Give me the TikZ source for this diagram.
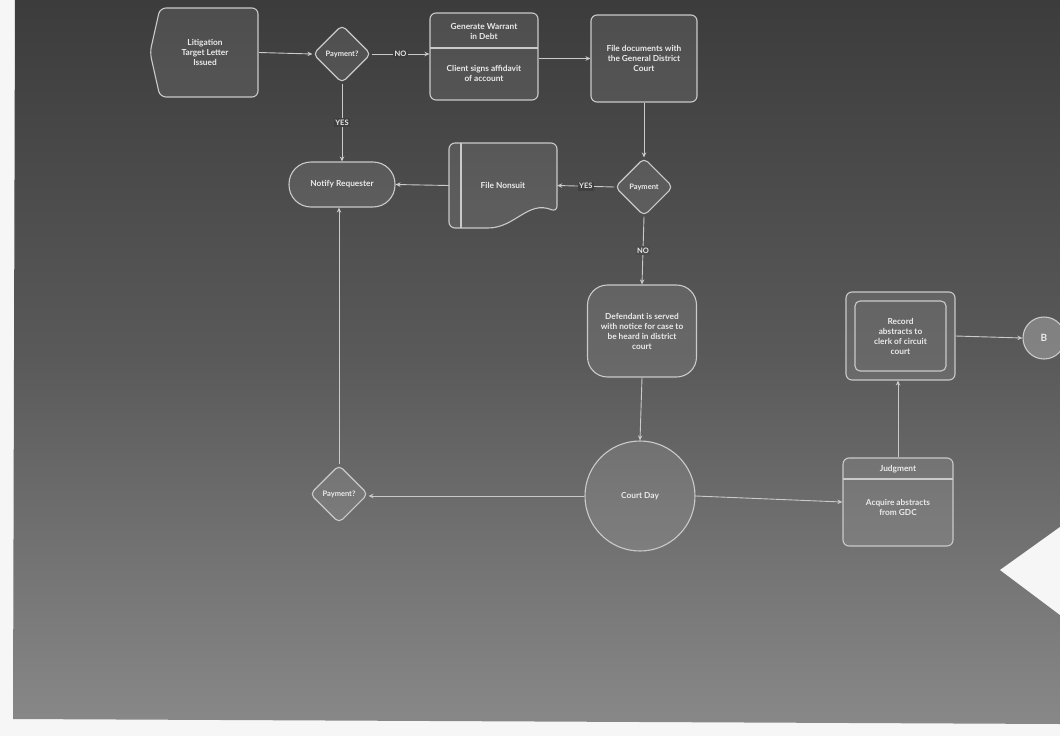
\documentclass[tikz,border=0pt]{standalone}
\usepackage{fontspec}
\setmainfont{Lato}
\usetikzlibrary{shapes.geometric,arrows.meta}
\definecolor{edgec}{HTML}{CACACA}
\definecolor{txtc}{HTML}{EAEAEA}
\definecolor{bgtop}{HTML}{3C3C3C}
\definecolor{bgmid}{HTML}{5A5A5A}
\definecolor{bgbot}{HTML}{888888}
\definecolor{paper}{HTML}{F6F6F6}
\tikzset{
  nodefill/.style={fill=white, fill opacity=0.09, text opacity=1, draw opacity=1},
  box/.style={draw=edgec, nodefill, rounded corners=6pt, line width=1.1pt, text=txtc, align=center},
  dia/.style={diamond, aspect=1, draw=edgec, nodefill, rounded corners=5pt, line width=1.1pt, text=txtc, inner sep=0.5pt, minimum size=58pt, font=\bfseries\fontsize{7.5}{9}\selectfont},
  conn/.style={draw=edgec, line width=0.9pt, -{Stealth[length=5pt,width=4.5pt]}},
  lbl/.style={text=txtc, font=\bfseries\fontsize{7.5}{9}\selectfont, inner sep=1.5pt},
  txt/.style={text=txtc, align=center},
  anchornode/.style={inner sep=0pt, draw=none}
}
\begin{document}
\begin{tikzpicture}[x=1pt,y=-1pt,font=\bfseries\fontsize{8.3}{10}\selectfont]
\useasboundingbox (0,0) rectangle (1060,736);
\fill[paper] (0,0) rectangle (1060,736);
\shade[top color=bgtop, bottom color=bgbot, middle color=bgmid] (15,0) -- (1060,0) -- (1060,724) -- (13,719) -- cycle;
\fill[paper] (1000,570) -- (1060,527) -- (1060,615) -- cycle;

% Litigation letter
\draw[box] (160,8) -- (258,8) -- (258,97) -- (160,97) -- (150,52.5) -- cycle;
\node[anchornode, txt, minimum width=108pt, minimum height=89pt] (lit) at (205,52.5) {Litigation\\Target Letter\\Issued};

% Payment? top
\node[dia] (p1) at (342,54) {Payment?};

% Generate warrant
\node[box, minimum width=108pt, minimum height=87pt] (gen) at (484,56.5) {};
\draw[edgec, line width=1.1pt] (430,48) -- (538,48);
\node[txt] (gent) at (484,31) {Generate Warrant\\in Debt};
\node[txt] (genb) at (484,73) {Client signs affidavit\\of account};

% File documents
\node[box, minimum width=106pt, minimum height=87pt] (fd) at (644,58.5) {File documents with\\the General District\\Court};

% Payment 2
\node[dia] (p2) at (644,187) {Payment};

% File Nonsuit
\draw[box] (449,228) -- (449,143) -- (557,143) -- (557,212) .. controls (528,200) and (515,228) .. (482,228) -- cycle;
\draw[edgec, line width=1.1pt] (461,143) -- (461,228);
\node[anchornode, txt, minimum width=108pt, minimum height=85pt] (fn) at (503,185.5) {File Nonsuit};

% Notify requester
\node[box, rounded corners=22pt, minimum width=106pt, minimum height=45pt] (nr) at (342,184.5) {Notify Requester};

% Defendant served
\node[box, rounded corners=20pt, minimum width=109pt, minimum height=92pt] (def) at (642,331) {Defendant is served\\with notice for case to\\be heard in district\\court};

% Court Day
\node[circle, draw=edgec, nodefill, line width=1.1pt, minimum size=110pt, text=txtc] (cd) at (640,496) {Court Day};

% Payment 3
\node[dia] (p3) at (339,494) {Payment?};

% Judgment
\node[box, minimum width=110pt, minimum height=88pt] (jd) at (898,502) {};
\draw[edgec, line width=1.1pt] (843,479) -- (953,479);
\node[txt] (jdt) at (898,469) {Judgment};
\node[txt] (jdb) at (898,507) {Acquire abstracts\\from GDC};

% Record abstracts
\node[box, minimum width=109pt, minimum height=88pt] (rec) at (900.5,336) {};
\draw[edgec, line width=1.1pt, rounded corners=5pt] (855,301) rectangle (946,371);
\node[txt] (rect) at (900.5,336) {Record\\abstracts to\\clerk of circuit\\court};

% B connector
\node[circle, draw=edgec, fill=white, fill opacity=0.25, text opacity=1, line width=1.1pt, minimum size=42pt, text=txtc, font=\bfseries\fontsize{10}{12}\selectfont] (bc) at (1044,338) {B};

% connectors
\draw[conn] (lit.east) -- (p1.west);
\draw[conn] (p1.east) -- node[lbl, fill=bgtop]{NO} (gen.west |- p1.east);
\draw[conn] (gen.east |- fd.west) -- (fd.west);
\draw[conn] (fd.south) -- (p2.north);
\draw[conn] (p2.west) -- node[lbl, fill=bgtop!85!bgmid]{YES} (fn.east);
\draw[conn] (fn.west) -- (nr.east);
\draw[conn] (p1.south) -- node[lbl, fill=bgtop!90!bgmid]{YES} (nr.north);
\draw[conn] (p2.south) -- node[lbl, fill=bgtop!45!bgmid]{NO} (def.north);
\draw[conn] (def.south) -- (cd.north);
\draw[conn] (cd.west) -- (cd.west -| p3.east);
\draw[conn] (p3.north) -- (p3.north |- nr.south);
\draw[conn] (cd.east) -- (jd.west);
\draw[conn] (jd.north) -- (jd.north |- rec.south);
\draw[conn] (rec.east) -- (bc.west);
\end{tikzpicture}
\end{document}
